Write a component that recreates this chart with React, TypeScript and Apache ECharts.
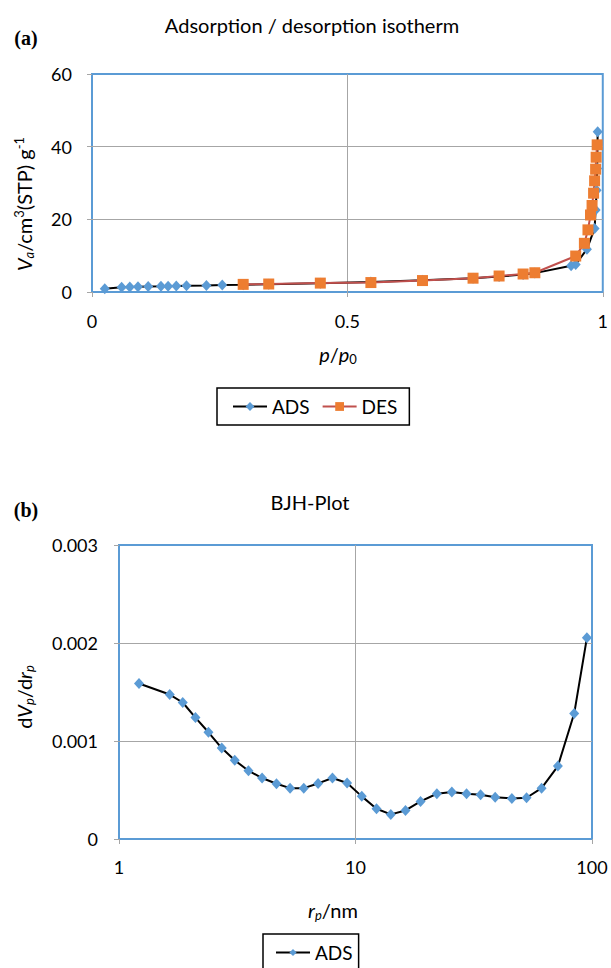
import React, { useEffect, useRef } from "react";
import * as echarts from "echarts";

// ---- Data ----
const adsP = [0.025, 0.058, 0.074, 0.09, 0.11, 0.135, 0.149, 0.165, 0.185, 0.224, 0.255, 0.296, 0.346, 0.447, 0.546, 0.647, 0.746, 0.797, 0.844, 0.867, 0.938, 0.947, 0.969, 0.984, 0.986, 0.988, 0.989, 0.99];
const adsV = [0.9, 1.3, 1.4, 1.45, 1.5, 1.55, 1.6, 1.65, 1.7, 1.8, 1.9, 2.0, 2.15, 2.4, 2.75, 3.2, 3.8, 4.25, 4.8, 5.2, 7.2, 7.6, 11.8, 17.5, 22.6, 28, 34, 44.1];
const desP = [0.989, 0.987, 0.986, 0.984, 0.982, 0.979, 0.976, 0.971, 0.964, 0.947, 0.867, 0.844, 0.797, 0.746, 0.647, 0.546, 0.447, 0.346, 0.296];
const desV = [40.5, 37.1, 33.8, 30.6, 27.2, 23.8, 21.2, 17.1, 13.4, 9.9, 5.3, 4.95, 4.4, 3.8, 3.15, 2.6, 2.45, 2.2, 2.1];
const bjhR = [1.215, 1.639, 1.86, 2.105, 2.389, 2.719, 3.086, 3.527, 4.027, 4.633, 5.289, 6.043, 6.947, 7.99, 9.215, 10.63, 12.27, 14.1, 16.27, 18.84, 22.08, 25.55, 29.48, 33.8, 38.96, 45.83, 52.89, 61.21, 71.74, 84.07, 95.15];
const bjhDv = [0.001587, 0.001474, 0.001393, 0.001239, 0.001089, 0.000928, 0.000803, 0.000697, 0.000622, 0.000564, 0.000519, 0.000519, 0.000567, 0.000622, 0.000571, 0.000435, 0.000309, 0.000251, 0.000291, 0.000383, 0.000462, 0.000479, 0.000462, 0.000452, 0.000427, 0.000414, 0.000421, 0.000519, 0.000744, 0.00128, 0.002053];

const topTitle = "Adsorption / desorption isotherm";
const bottomTitle = "BJH-Plot";
const seriesNames = ["ADS", "DES"];

const FONT = "Lato";
const GRID_BORDER = "#5B9BD5";
const GRID_LINE = "#A6A6A6";

const richBase = {
  n: { fontFamily: FONT, fontSize: 20, color: "#000" },
  i: { fontFamily: FONT, fontSize: 20, fontStyle: "italic", color: "#000" },
  isub: { fontFamily: FONT, fontSize: 13, fontStyle: "italic", color: "#000", padding: [10, 0, 0, 0] },
  sub: { fontFamily: FONT, fontSize: 13, color: "#000", padding: [10, 0, 0, 0] },
  sup: { fontFamily: FONT, fontSize: 13, color: "#000", padding: [0, 0, 10, 0] },
};

function textEl(x: number, y: number, text: string, extra: any = {}, rotation = 0) {
  return {
    type: "text",
    x,
    y,
    rotation,
    silent: true,
    style: {
      text,
      fontFamily: FONT,
      fontSize: 20,
      fill: "#000",
      textAlign: "center",
      textVerticalAlign: "middle",
      align: "center",
      verticalAlign: "middle",
      rich: richBase,
      ...extra,
    },
  };
}

const axisLabelStyle = { fontFamily: FONT, fontSize: 18, color: "#000" };
const tickStyle = { show: true, length: 5, lineStyle: { color: GRID_LINE, width: 1 } };
const splitStyle = { show: true, showMinLine: false, showMaxLine: false, lineStyle: { color: GRID_LINE, width: 1 } };

export default function App() {
  const ref = useRef<HTMLDivElement>(null);
  useEffect(() => {
    if (!ref.current) return;
    const chart = echarts.init(ref.current, undefined, { renderer: "svg" });
    const option: any = {
      animation: false,
      backgroundColor: "#fff",
      grid: [
        { left: 92, top: 74, width: 512, height: 218, show: true, borderColor: GRID_BORDER, borderWidth: 2, backgroundColor: "transparent" },
        { left: 119, top: 545, width: 473, height: 294, show: true, borderColor: GRID_BORDER, borderWidth: 2, backgroundColor: "transparent" },
      ],
      xAxis: [
        {
          gridIndex: 0, type: "value", min: 0, max: 1, interval: 0.5,
          axisLine: { show: false }, axisTick: tickStyle, splitLine: splitStyle,
          axisLabel: { ...axisLabelStyle, margin: 20 },
        },
        {
          gridIndex: 1, type: "log", logBase: 10, min: 1, max: 100,
          axisLine: { show: false }, axisTick: tickStyle, splitLine: splitStyle,
          minorTick: { show: false }, minorSplitLine: { show: false },
          axisLabel: { ...axisLabelStyle, margin: 19 },
        },
      ],
      yAxis: [
        {
          gridIndex: 0, type: "value", min: 0, max: 60, interval: 20,
          axisLine: { show: false }, axisTick: tickStyle, splitLine: splitStyle,
          axisLabel: { ...axisLabelStyle, margin: 20 },
        },
        {
          gridIndex: 1, type: "value", min: 0, max: 0.003, interval: 0.001,
          axisLine: { show: false }, axisTick: tickStyle, splitLine: splitStyle,
          axisLabel: { ...axisLabelStyle, margin: 21, formatter: (v: number) => String(+v.toFixed(3)) },
        },
      ],
      legend: [
        {
          data: seriesNames, left: 217, top: 388, orient: "horizontal",
          padding: [9, 12, 9, 15], itemGap: 12, itemWidth: 34, itemHeight: 11,
          borderColor: "#000", borderWidth: 1.5, backgroundColor: "#fff",
          textStyle: { fontFamily: FONT, fontSize: 19, color: "#000" },
          selectedMode: false,
        },
        {
          data: [seriesNames[0]], left: 263, top: 934, orient: "horizontal",
          padding: [9, 6, 9, 12], itemWidth: 34, itemHeight: 9,
          borderColor: "#000", borderWidth: 1.5, backgroundColor: "#fff",
          textStyle: { fontFamily: FONT, fontSize: 19, color: "#000" },
          selectedMode: false,
        },
      ],
      series: [
        {
          name: seriesNames[0], type: "line", xAxisIndex: 0, yAxisIndex: 0,
          data: adsP.map((p, k) => [p, adsV[k]]),
          symbol: "diamond", symbolSize: [10, 11],
          lineStyle: { color: "#000", width: 2 },
          itemStyle: { color: "#5B9BD5" },
        },
        {
          name: seriesNames[1], type: "line", xAxisIndex: 0, yAxisIndex: 0,
          data: desP.map((p, k) => [p, desV[k]]),
          symbol: "rect", symbolSize: 11,
          lineStyle: { color: "#C0504D", width: 2 },
          itemStyle: { color: "#ED7D31" },
        },
        {
          name: seriesNames[0], type: "line", xAxisIndex: 1, yAxisIndex: 1,
          data: bjhR.map((r, k) => [r, bjhDv[k]]),
          symbol: "diamond", symbolSize: [10, 11],
          lineStyle: { color: "#000", width: 2 },
          itemStyle: { color: "#5B9BD5" },
        },
      ],
      graphic: [
        textEl(312, 25, topTitle),
        textEl(310, 502, bottomTitle),
        textEl(26, 38, "(a)", { fontFamily: "Liberation Serif", fontWeight: "bold", fontSize: 20, rich: undefined }),
        textEl(26, 510, "(b)", { fontFamily: "Liberation Serif", fontWeight: "bold", fontSize: 20, rich: undefined }),
        textEl(338, 354, "{i|p}{n|/}{i|p}{sub|0}"),
        textEl(333, 910, "{i|r}{isub|p}{n|/nm}"),
        textEl(24, 204, "{i|V}{isub|a}{n|/cm}{sup|3}{n|(STP) g}{sup|-1}", {}, Math.PI / 2),
        textEl(24, 697, "{n|d}{i|V}{isub|p}{n|/d}{i|r}{isub|p}", {}, Math.PI / 2),
      ],
    };
    chart.setOption(option);
    return () => chart.dispose();
  }, []);
  return (
    <div
      ref={ref}
      style={{ position: "fixed", left: 0, top: 0, width: 611, height: 968, background: "#fff" }}
    />
  );
}
